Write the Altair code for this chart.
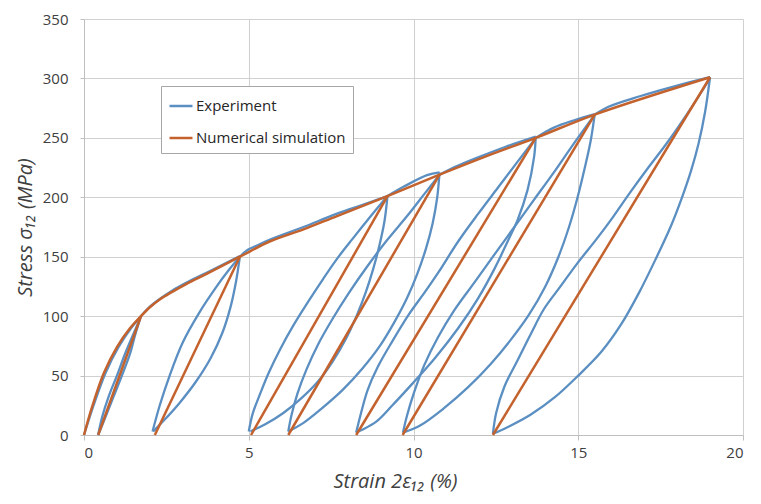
import altair as alt
import pandas as pd

# ---------------- data ----------------
# Numerical simulation: monotonic envelope
sim_env_x = [0, 0.25, 0.6, 1.0, 1.4, 1.73, 2.0, 2.3, 2.65, 3.1, 3.75, 4.73, 5.65, 6.66, 7.66, 9.21, 10.79, 12.16, 13.71, 15.5, 19.0]
sim_env_y = [0, 24, 52, 74, 90, 100, 107.5, 114, 120, 127, 136, 150, 163, 173, 184, 201, 219, 234, 250, 269.6, 301]
# Numerical simulation: unloading / reloading straight lines (peak -> residual strain)
sim_peak_x = [1.73, 4.73, 9.21, 10.79, 13.71, 15.5, 19.0]
sim_peak_y = [100, 150, 201, 219, 250, 269.6, 301]
sim_resid_x = [0.43, 2.15, 5.07, 6.2, 8.26, 9.67, 12.41]

# Experiment: first loading
exp_load_x = [0, 0.28, 0.65, 1.05, 1.43, 1.73]
exp_load_y = [0, 24, 52, 74, 90, 100]
# Experiment: envelope between cycles
exp_env12_x = [1.73, 2.0, 2.3, 2.65, 3.1, 3.75, 4.73]
exp_env12_y = [100, 108, 114.5, 121, 128, 137, 150.5]
exp_env23_x = [4.73, 4.95, 5.3, 5.65, 6.66, 7.66, 8.5, 9.21]
exp_env23_y = [150, 155.5, 160, 164.5, 175, 186, 194, 201]
exp_env34_x = [9.21, 9.71, 10.41, 10.79]
exp_env34_y = [201, 209, 218.6, 221]
exp_env45_x = [10.79, 11.3, 12.0, 12.8, 13.71]
exp_env45_y = [219, 226, 234, 242.5, 251]
exp_env56_x = [13.71, 14.26, 14.9, 15.5]
exp_env56_y = [250, 258.6, 265, 270]
exp_env67_x = [15.5, 15.9, 16.87, 18.0, 19.0]
exp_env67_y = [269.6, 276, 285, 294, 301]

# Experiment: unloading branches
exp_c1_down_x = [1.73, 1.55, 1.40, 1.15, 0.9, 0.65, 0.43]
exp_c1_down_y = [100, 84, 68.6, 50, 32.5, 15, 0]
exp_c2_down_x = [4.73, 4.62, 4.45, 4.2, 3.85, 3.4, 2.9, 2.45, 2.1]
exp_c2_down_y = [150, 130, 108, 86, 65, 45, 27, 13, 3]
exp_c3_down_x = [9.21, 9.12, 8.97, 8.78, 8.55, 8.27, 7.95, 7.55, 7.1, 6.6, 6.05, 5.5, 5.05]
exp_c3_down_y = [201, 180, 160, 140, 120, 100, 81, 62, 45, 31, 18.5, 9, 3]
exp_c4_down_x = [10.79, 10.72, 10.58, 10.38, 10.12, 9.8, 9.42, 8.98, 8.45, 7.85, 7.2, 6.65, 6.2]
exp_c4_down_y = [221, 200, 178, 157, 136, 115, 95, 75, 56, 38, 22, 10, 3]
exp_c5_down_x = [13.71, 13.66, 13.46, 13.16, 12.86, 12.46, 11.96, 11.36, 10.66, 9.96, 9.36, 8.86, 8.26]
exp_c5_down_y = [251, 234, 206, 181, 163, 140, 115, 90, 65, 43, 25, 11, 2]
exp_c6_down_x = [15.5, 15.38, 15.2, 14.98, 14.72, 14.4, 14.0, 13.5, 12.95, 12.35, 11.65, 10.9, 10.2, 9.68]
exp_c6_down_y = [270, 248, 225, 200, 175, 150, 125, 101, 80, 60, 40, 22, 8, 2]
exp_c7_down_x = [19.0, 18.85, 18.65, 18.42, 18.15, 17.8, 17.35, 16.85, 16.3, 15.7, 15.0, 14.3, 13.55, 12.85, 12.41]
exp_c7_down_y = [301, 272, 245, 222, 200, 175, 148, 120, 93, 70, 50, 32, 17, 6.5, 1]

# Experiment: reloading branches
exp_c1_up_x = [0.43, 0.55, 0.75, 1.0, 1.25, 1.5, 1.73]
exp_c1_up_y = [0, 15, 32.5, 50, 68.6, 85, 100]
exp_c2_up_x = [2.08, 2.3, 2.6, 3.0, 3.5, 4.0, 4.4, 4.73]
exp_c2_up_y = [3, 25, 50, 78, 103, 124, 139, 150]
exp_c3_up_x = [5.0, 5.12, 5.35, 5.6, 5.95, 6.35, 6.8, 7.25, 7.7, 8.15, 8.7, 9.21]
exp_c3_up_y = [3, 18, 35, 52, 72, 92, 112, 131, 149, 165, 184, 201]
exp_c4_up_x = [6.2, 6.3, 6.48, 6.75, 7.1, 7.55, 8.05, 8.6, 9.2, 9.8, 10.35, 10.79]
exp_c4_up_y = [3, 17, 35, 55, 76, 98, 120, 142, 164, 184, 203.5, 219]
exp_c5_up_x = [8.26, 8.41, 8.61, 8.91, 9.36, 9.86, 10.36, 10.76, 11.36, 11.96, 12.56, 13.16, 13.71]
exp_c5_up_y = [2, 18.7, 38, 57, 79, 101.5, 120.8, 137, 163, 186, 208, 230, 250]
exp_c6_up_x = [9.68, 9.8, 10.02, 10.33, 10.74, 11.24, 11.84, 12.46, 13.06, 13.66, 14.26, 14.86, 15.5]
exp_c6_up_y = [2, 16, 36, 59, 82, 105, 128, 152, 175, 198, 221, 245, 269.6]
exp_c7_up_x = [12.41, 12.51, 12.76, 13.16, 13.56, 13.96, 14.46, 14.96, 15.56, 16.07, 16.56, 17.1, 17.67, 18.3, 18.87, 19.0]
exp_c7_up_y = [1, 18.7, 40.8, 62.9, 85, 106, 125, 144, 165, 184, 203.5, 224, 244.8, 270, 294.5, 301]

SERIES = ["Experiment", "Numerical simulation"]
COLORS = ["#5B8FC2", "#C4622D"]

# ---------------- build tables ----------------
def add(rows, series, seg, xs, ys):
    for i, (x, y) in enumerate(zip(xs, ys)):
        rows.append({"series": series, "seg": seg, "i": i, "strain": x, "stress": y})

exp_rows = []
exp_branches = [
    ("load", exp_load_x, exp_load_y),
    ("e12", exp_env12_x, exp_env12_y), ("e23", exp_env23_x, exp_env23_y),
    ("e34", exp_env34_x, exp_env34_y), ("e45", exp_env45_x, exp_env45_y),
    ("e56", exp_env56_x, exp_env56_y), ("e67", exp_env67_x, exp_env67_y),
    ("d1", exp_c1_down_x, exp_c1_down_y), ("u1", exp_c1_up_x, exp_c1_up_y),
    ("d2", exp_c2_down_x, exp_c2_down_y), ("u2", exp_c2_up_x, exp_c2_up_y),
    ("d3", exp_c3_down_x, exp_c3_down_y), ("u3", exp_c3_up_x, exp_c3_up_y),
    ("d4", exp_c4_down_x, exp_c4_down_y), ("u4", exp_c4_up_x, exp_c4_up_y),
    ("d5", exp_c5_down_x, exp_c5_down_y), ("u5", exp_c5_up_x, exp_c5_up_y),
    ("d6", exp_c6_down_x, exp_c6_down_y), ("u6", exp_c6_up_x, exp_c6_up_y),
    ("d7", exp_c7_down_x, exp_c7_down_y), ("u7", exp_c7_up_x, exp_c7_up_y),
]
for seg, xs, ys in exp_branches:
    add(exp_rows, SERIES[0], seg, xs, ys)

sim_rows = []
add(sim_rows, SERIES[1], "env", sim_env_x, sim_env_y)
for k, (px, py, rx) in enumerate(zip(sim_peak_x, sim_peak_y, sim_resid_x)):
    add(sim_rows, SERIES[1], f"c{k}", [rx, px], [0, py])

exp_df = pd.DataFrame(exp_rows)
sim_df = pd.DataFrame(sim_rows)

FONT = "Open Sans"
GRID = "#D0D0D0"
PLOT_W, PLOT_H = 659, 416

x_enc = alt.X(
    "strain:Q",
    scale=alt.Scale(domain=[0, 20], nice=False),
    axis=alt.Axis(
        values=[0, 5, 10, 15, 20], title="Strain 2ε₁₂ (%)",
        grid=True, gridColor=GRID, domainColor="#BFBFBF", tickColor="#BFBFBF", tickSize=5,
        labelFont=FONT, labelFontSize=15, labelColor="#404040", labelPadding=5,
        titleFont=FONT, titleFontSize=20, titleFontStyle="italic", titleFontWeight="normal",
        titleColor="#404040", titleX=311, titleY=52, titleAlign="center", titleBaseline="alphabetic",
    ),
)
y_enc = alt.Y(
    "stress:Q",
    scale=alt.Scale(domain=[0, 350], nice=False),
    axis=alt.Axis(
        values=[0, 50, 100, 150, 200, 250, 300, 350], title="Stress σ₁₂ (MPa)",
        grid=True, gridColor=GRID, domainColor="#BFBFBF", tickColor="#BFBFBF", tickSize=4,
        labelFont=FONT, labelFontSize=15, labelColor="#404040", labelPadding=12,
        titleFont=FONT, titleFontSize=20, titleFontStyle="italic", titleFontWeight="normal",
        titleColor="#404040", titleX=-53, titleY=PLOT_H / 2, titleAlign="center", titleAngle=-90,
        titleBaseline="alphabetic",
    ),
)
color_enc = alt.Color(
    "series:N",
    scale=alt.Scale(domain=SERIES, range=COLORS),
    legend=alt.Legend(
        title=None, orient="none", legendX=77, legendY=67,
        symbolType="stroke", symbolSize=529, symbolStrokeWidth=2.5,
        labelFont=FONT, labelFontSize=15, labelColor="#262626", labelOffset=2,
        rowPadding=11, padding=7, strokeColor="#A6A6A6", fillColor="white",
    ),
)

exp_chart = alt.Chart(exp_df).mark_line(interpolate="catmull-rom", strokeWidth=2.3).encode(
    x=x_enc, y=y_enc, color=color_enc, detail="seg:N", order="i:Q"
)
sim_chart = alt.Chart(sim_df).mark_line(interpolate="catmull-rom", strokeWidth=2.5).encode(
    x=x_enc, y=y_enc, color=color_enc, detail="seg:N", order="i:Q"
)

chart = alt.layer(exp_chart, sim_chart).properties(
    width=PLOT_W, height=PLOT_H,
    autosize=alt.AutoSizeParams(type="none"),
    padding={"left": 76, "top": 11, "right": 10, "bottom": 58},
).configure_view(stroke=None)

chart.save("out.html", embed_options={"renderer": "svg", "actions": False})
